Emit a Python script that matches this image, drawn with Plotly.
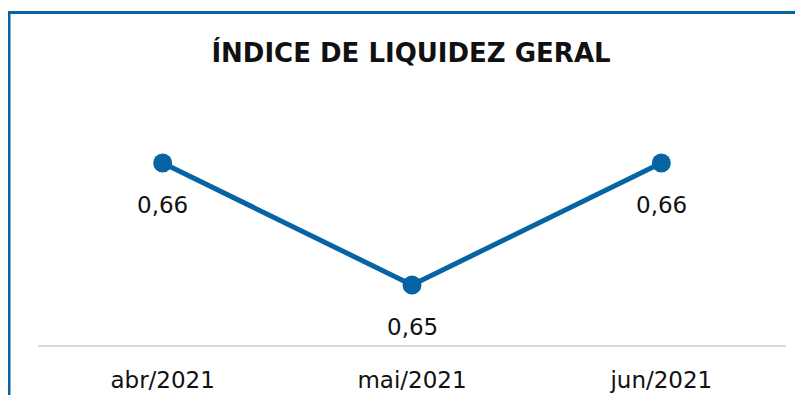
import plotly.graph_objects as go

categories = ["abr/2021", "mai/2021", "jun/2021"]
values = [0.66, 0.65, 0.66]
title_text = "ÍNDICE DE LIQUIDEZ GERAL"

# page body has an 8px margin; size the figure to fit the window and
# work in screen pixels
OFF = 8
W, H = 803 - 2 * OFF, 403 - 2 * OFF
L, R, T, B = 38 - OFF, W - (786 - OFF), 80 - OFF, H - (345 - OFF)
pw, ph = W - L - R, H - T - B

def px_to_paper_x(px):
    return (px - OFF - L) / pw

def px_to_paper_y(py):
    return (H - B - (py - OFF)) / ph

blue = "#0664A4"
font_family = "'DejaVu Sans', sans-serif"

fig = go.Figure()
fig.add_trace(go.Scatter(
    x=categories, y=values, mode="lines+markers",
    line=dict(color=blue, width=5),
    marker=dict(color=blue, size=19),
    hoverinfo="skip",
))

labels = [f"{v:.2f}".replace(".", ",") for v in values]
for c, v, t in zip(categories, values, labels):
    fig.add_annotation(x=c, y=v, text=t, showarrow=False, yshift=-42,
                       font=dict(family=font_family, size=23, color="#111111"))

shapes = [
    dict(type="line", xref="paper", yref="paper",
         x0=px_to_paper_x(8.5), x1=px_to_paper_x(8.5),
         y0=px_to_paper_y(11), y1=px_to_paper_y(410),
         line=dict(color=blue, width=4)),
    dict(type="line", xref="paper", yref="paper",
         x0=px_to_paper_x(7), x1=px_to_paper_x(810),
         y0=px_to_paper_y(12.5), y1=px_to_paper_y(12.5),
         line=dict(color=blue, width=3)),
]

fig.update_layout(
    width=W, height=H,
    margin=dict(l=L, r=R, t=T, b=B, autoexpand=False),
    paper_bgcolor="white", plot_bgcolor="white",
    showlegend=False,
    title=dict(text=f"<b>{title_text}</b>", x=(411 - OFF) / W, xanchor="center",
               y=1 - (53 - OFF) / H, yanchor="middle",
               font=dict(family=font_family, size=26, color="#111111")),
    shapes=shapes,
    xaxis=dict(showline=True, linecolor="#d9d9d9", linewidth=2,
               range=[-0.5, 2.5], automargin=False,
               showgrid=False, zeroline=False, ticks="outside",
               ticklen=13, tickcolor="rgba(0,0,0,0)",
               tickfont=dict(family=font_family, size=23, color="#111111"),
               fixedrange=True),
    yaxis=dict(visible=False, range=[0.64508, 0.66680], fixedrange=True,
               automargin=False),
)

fig.write_html("out.html")
